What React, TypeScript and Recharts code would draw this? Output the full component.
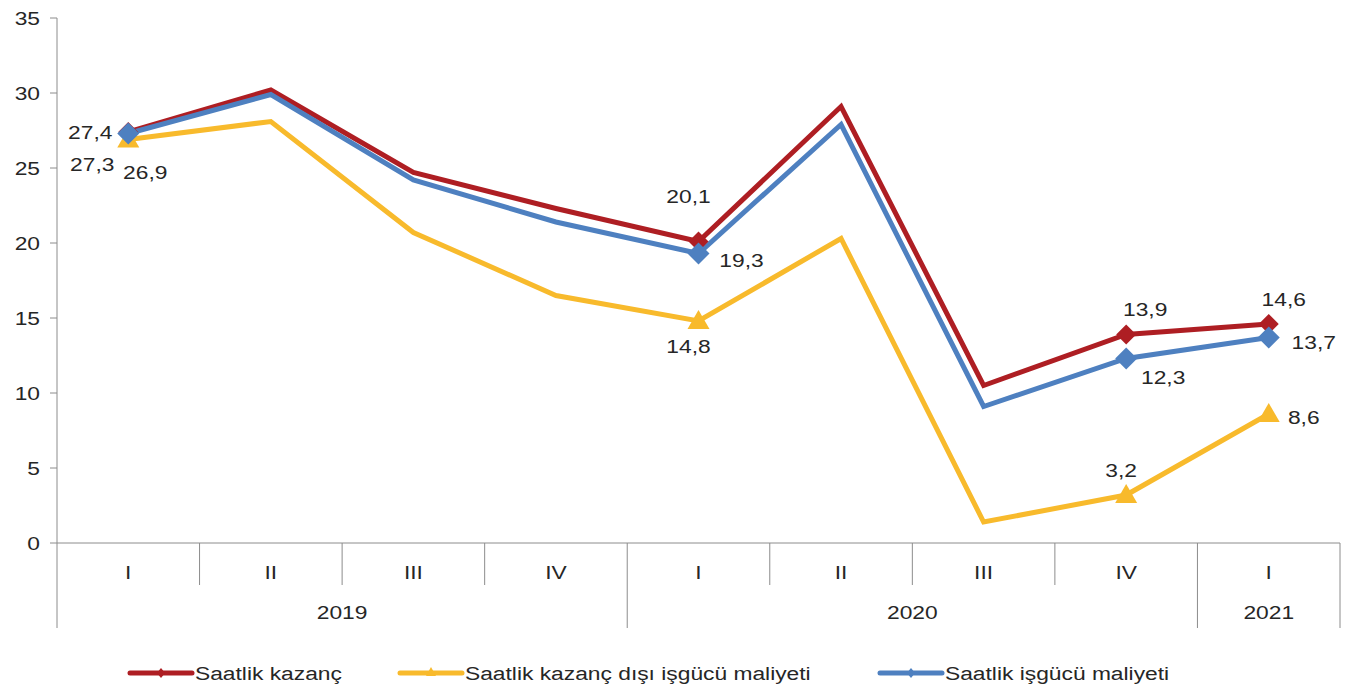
import React from 'react';
import { LineChart, Line, XAxis, YAxis, LabelList, Legend } from 'recharts';

const quarters = ['I', 'II', 'III', 'IV', 'I', 'II', 'III', 'IV', 'I'];
const years = ['2019', '2019', '2019', '2019', '2020', '2020', '2020', '2020', '2021'];
const kazanc = [27.4, 30.2, 24.7, 22.3, 20.1, 29.1, 10.5, 13.9, 14.6];
const kazancDisi = [26.9, 28.1, 20.7, 16.5, 14.8, 20.3, 1.4, 3.2, 8.6];
const isgucu = [27.3, 29.9, 24.2, 21.4, 19.3, 27.9, 9.1, 12.3, 13.7];
const yTicks = [0, 5, 10, 15, 20, 25, 30, 35];
const markedIdx = [0, 4, 7, 8];

const data = quarters.map((q, i) => ({
  key: i,
  q,
  year: years[i],
  kazanc: kazanc[i],
  kazancDisi: kazancDisi[i],
  isgucu: isgucu[i],
}));

const RED = '#AE1E23';
const YELLOW = '#F8BA2C';
const BLUE = '#4E80C0';
const AXIS = '#8C8C8C';
const FONT = '"Liberation Sans", Arial, sans-serif';

const W = 1341;
const H = 685;
const M = { top: 10, right: 9, left: 0, bottom: 0 };
const Y_W = 49;
const BAND = (W - M.right - Y_W) / quarters.length;

// text in the source is a bit stretched horizontally
const SText = ({ x, y, children, anchor = 'middle', size = 19 }: any) => (
  <text
    transform={`translate(${x},${y}) scale(1.2,1)`}
    textAnchor={anchor}
    dominantBaseline="central"
    fontFamily={FONT}
    fontSize={size}
    fill="#262626"
  >
    {children}
  </text>
);

// label offsets per series, keyed by point index
const placeRed: Record<number, [number, number]> = { 0: [-38, 0], 4: [-10, -45], 7: [19, -25], 8: [15, -25] };
const placeBlue: Record<number, [number, number]> = { 0: [-36, 31], 4: [43, 7], 7: [37, 19], 8: [45, 5] };
const placeYellow: Record<number, [number, number]> = { 0: [17, 33], 4: [-10, 25], 7: [-5, -25], 8: [35, 3] };

const fmt = (v: number) => v.toFixed(1).replace('.', ',');

const makeLabel = (place: Record<number, [number, number]>) => (props: any) => {
  const { x, y, value, index } = props;
  const p = place[index];
  if (!p) return null;
  return (
    <g key={`l${index}`}>
      <SText x={x + p[0]} y={y + p[1]}>{fmt(value)}</SText>
    </g>
  );
};

const diamond = (color: string, r: number) => (props: any) => {
  const { cx, cy, index } = props;
  if (!markedIdx.includes(index)) return <g key={`d${index}`} />;
  return (
    <path
      key={`d${index}`}
      d={`M${cx},${cy - r} L${cx + r},${cy} L${cx},${cy + r} L${cx - r},${cy} Z`}
      fill={color}
    />
  );
};

const triangle = (color: string) => (props: any) => {
  const { cx, cy, index } = props;
  if (!markedIdx.includes(index)) return <g key={`t${index}`} />;
  return (
    <path
      key={`t${index}`}
      d={`M${cx},${cy - 11} L${cx + 11},${cy + 8} L${cx - 11},${cy + 8} Z`}
      fill={color}
    />
  );
};

const YTick = (props: any) => {
  const { x, y, payload } = props;
  return <SText x={x} y={y} anchor="end">{payload.value}</SText>;
};

const XTick = (props: any) => {
  const { x, y, payload } = props;
  const i = payload.index;
  const left = x - BAND / 2;
  const yearStart = i === 0 || years[i] !== years[i - 1];
  const count = years.filter((yy) => yy === years[i]).length;
  return (
    <g>
      <SText x={x} y={y + 29}>{quarters[i]}</SText>
      <line x1={left} x2={left} y1={y} y2={y + (yearStart ? 85 : 42)} stroke={AXIS} strokeWidth={1} />
      {i === quarters.length - 1 && (
        <line x1={x + BAND / 2} x2={x + BAND / 2} y1={y} y2={y + 85} stroke={AXIS} strokeWidth={1} />
      )}
      {yearStart && <SText x={left + (count * BAND) / 2} y={y + 69}>{years[i]}</SText>}
    </g>
  );
};

const legendItems = [
  { name: 'Saatlik kazanç', color: RED, shape: 'diamond' },
  { name: 'Saatlik kazanç dışı işgücü maliyeti', color: YELLOW, shape: 'triangle' },
  { name: 'Saatlik işgücü maliyeti', color: BLUE, shape: 'diamond' },
];

const LegendContent = () => (
  <svg width={W} height={40}>
    {legendItems.map((it, i) => {
      const x0 = [122, 392, 872][i];
      return (
        <g key={it.name}>
          <line x1={x0} x2={x0 + 62} y1={20} y2={20} stroke={it.color} strokeWidth={5} strokeLinecap="round" />
          {it.shape === 'diamond' ? (
            <path d={`M${x0 + 31},${15} L${x0 + 35},${20} L${x0 + 31},${25} L${x0 + 27},${20} Z`} fill={it.color} />
          ) : (
            <path d={`M${x0 + 31},${14} L${x0 + 36},${23} L${x0 + 26},${23} Z`} fill={it.color} />
          )}
          <SText x={x0 + 65} y={20} anchor="start">{it.name}</SText>
        </g>
      );
    })}
  </svg>
);

const App = () => {
  return (
    <LineChart width={W} height={H} data={data} margin={M}>
      <XAxis
        dataKey="key"
        type="category"
        padding={{ left: BAND / 2, right: BAND / 2 }}
        height={110}
        tickLine={false}
        tickSize={0}
        tickMargin={0}
        interval={0}
        axisLine={{ stroke: AXIS, strokeWidth: 1 }}
        tick={<XTick />}
      />
      <YAxis
        width={Y_W}
        domain={[0, 35]}
        ticks={yTicks}
        interval={0}
        tickSize={7}
        tickMargin={10}
        axisLine={{ stroke: AXIS, strokeWidth: 1 }}
        tickLine={{ stroke: AXIS, strokeWidth: 1 }}
        tick={<YTick />}
      />
      <Legend verticalAlign="bottom" height={40} content={<LegendContent />} />
      <Line
        dataKey="kazanc"
        stroke={RED}
        strokeWidth={5}
        strokeLinejoin="miter"
        dot={diamond(RED, 10)}
        activeDot={false}
        isAnimationActive={false}
      >
        <LabelList dataKey="kazanc" content={makeLabel(placeRed)} />
      </Line>
      <Line
        dataKey="kazancDisi"
        stroke={YELLOW}
        strokeWidth={5}
        strokeLinejoin="miter"
        dot={triangle(YELLOW)}
        activeDot={false}
        isAnimationActive={false}
      >
        <LabelList dataKey="kazancDisi" content={makeLabel(placeYellow)} />
      </Line>
      <Line
        dataKey="isgucu"
        stroke={BLUE}
        strokeWidth={5}
        strokeLinejoin="miter"
        dot={diamond(BLUE, 11)}
        activeDot={false}
        isAnimationActive={false}
      >
        <LabelList dataKey="isgucu" content={makeLabel(placeBlue)} />
      </Line>
    </LineChart>
  );
};

export default App;
